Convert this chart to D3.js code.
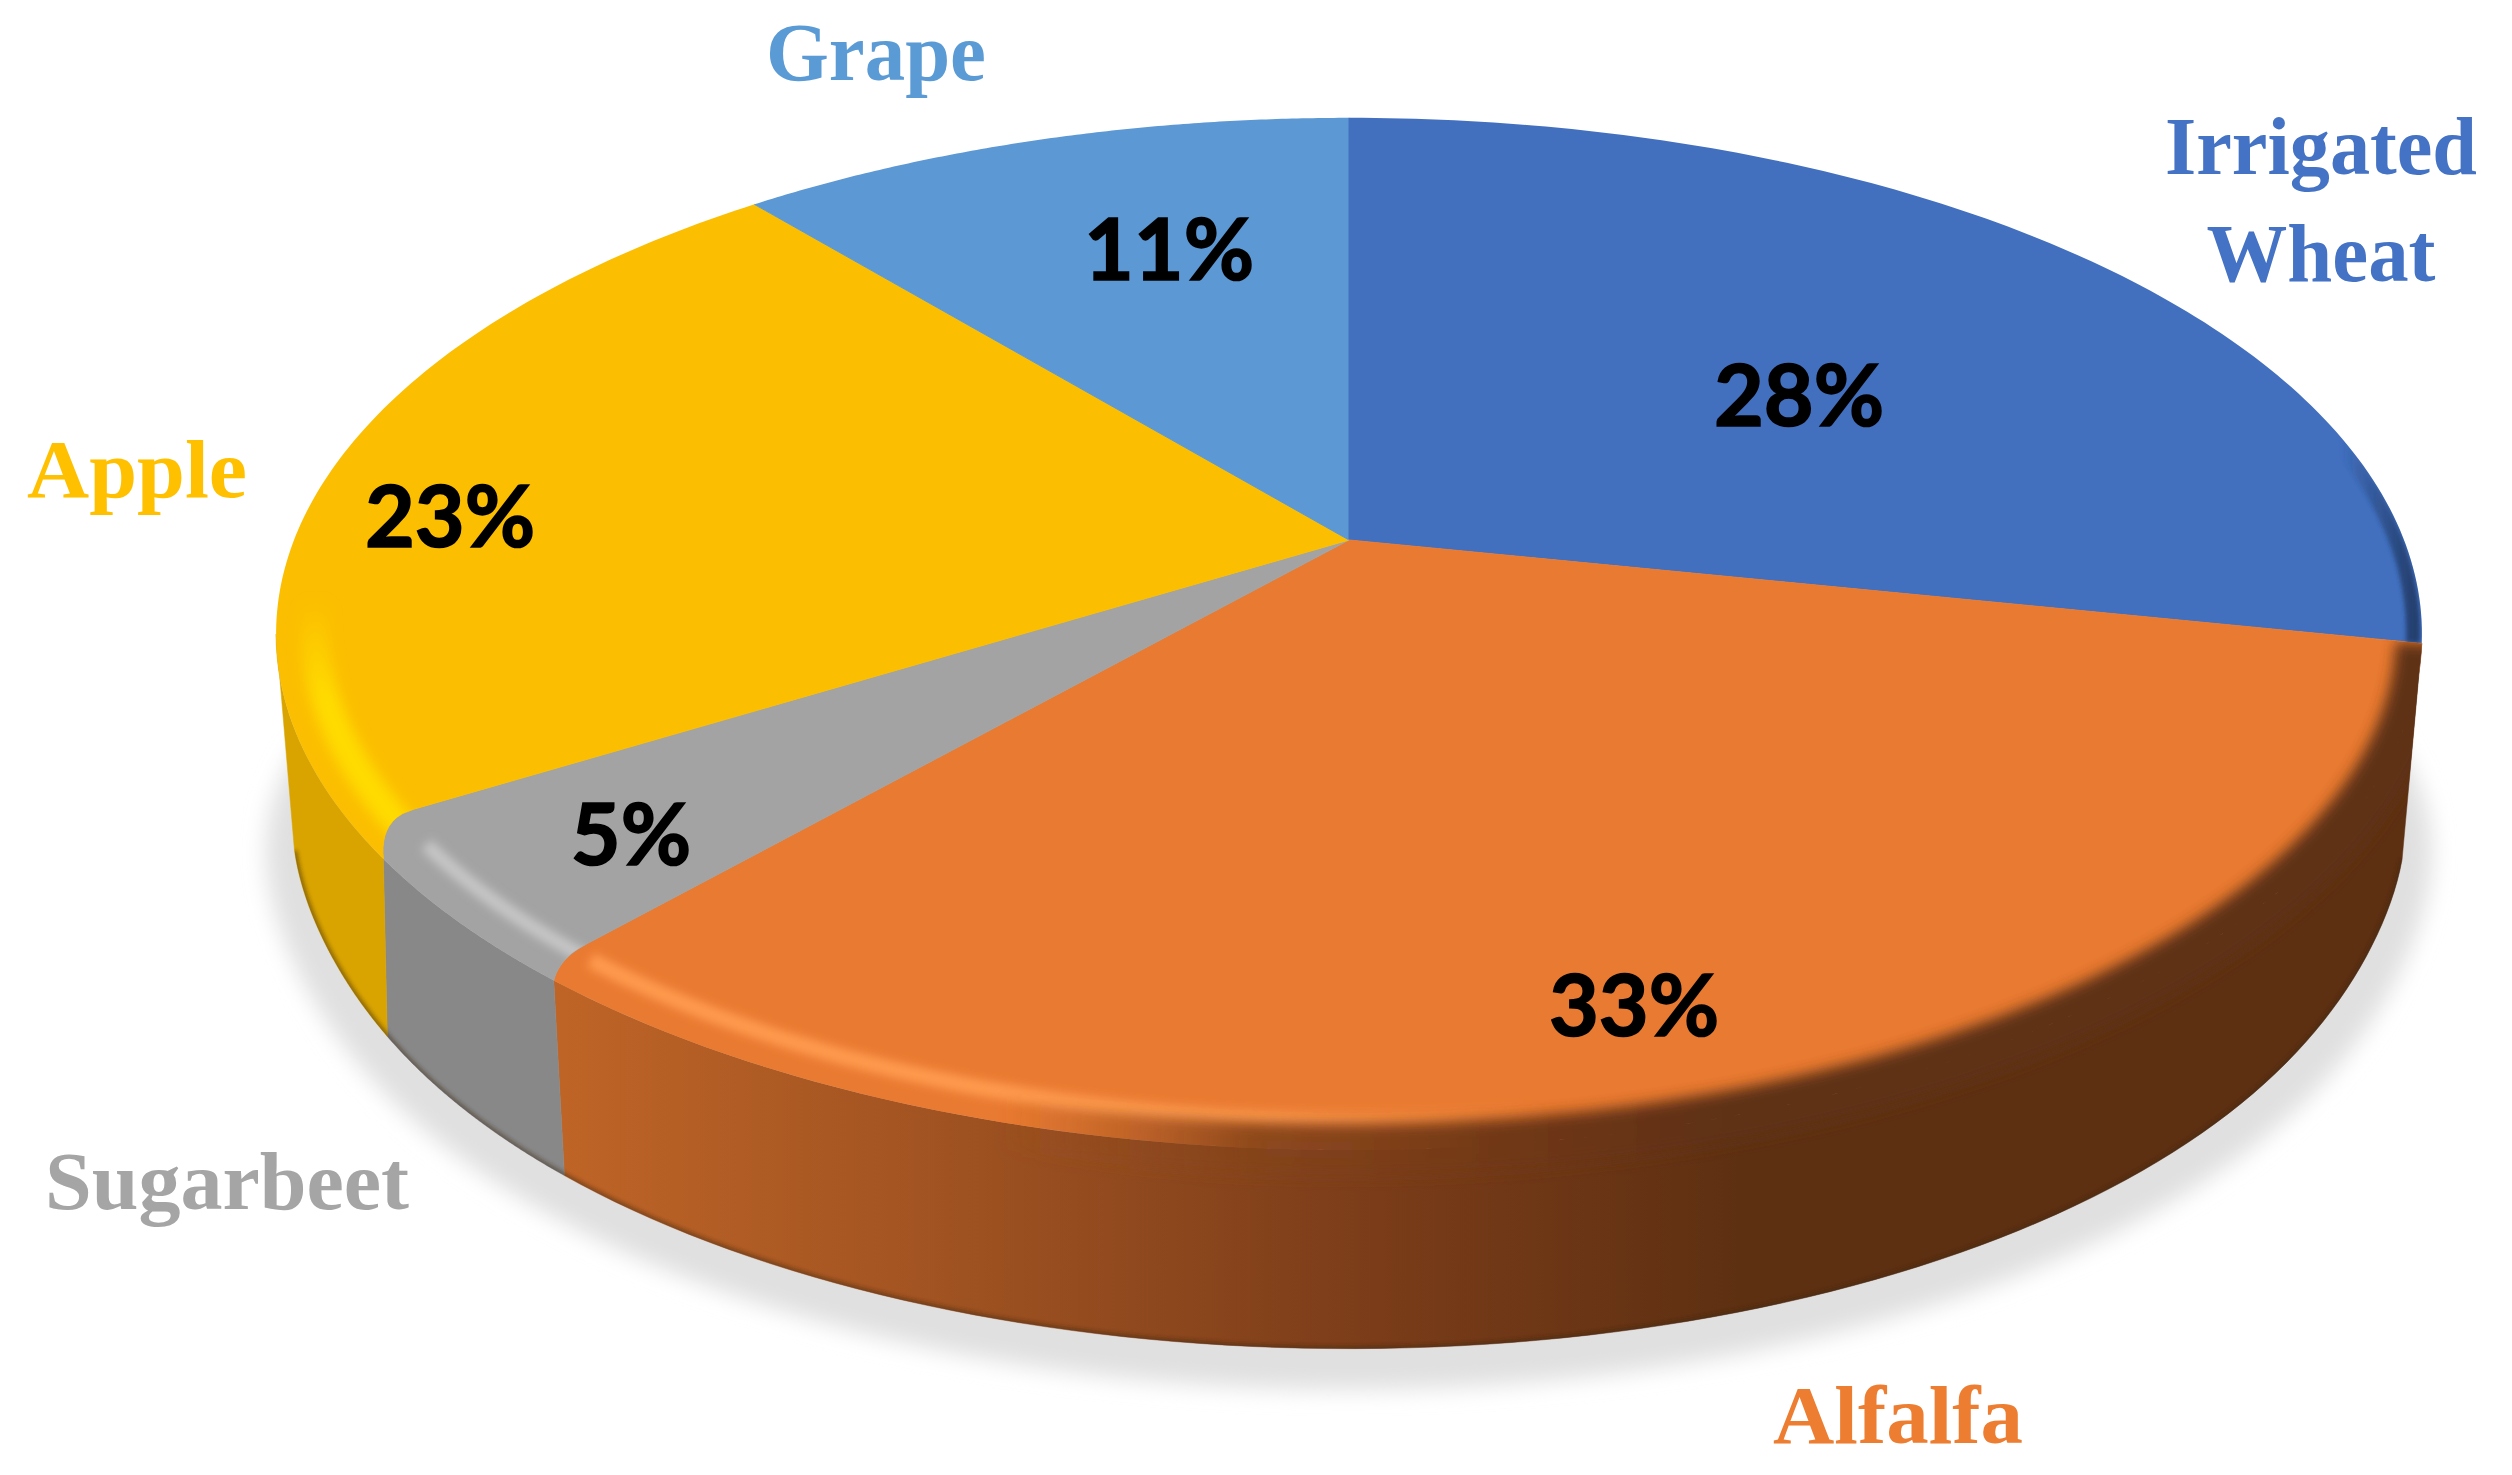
<!DOCTYPE html>
<html>
<head>
<meta charset="utf-8">
<script src="https://cdn.jsdelivr.net/npm/d3@7"></script>
<style>
    body { margin: 0; background: #fff; }
    text { text-anchor: middle; }
    .crop { font-family: "Liberation Serif", serif; font-weight: 700; font-size: 82px; }
    .pct { font-family: Lato, sans-serif; font-weight: 700; font-size: 86px; fill: #000; stroke: #000; stroke-width: 1.6px; }
</style>
</head>
<body>
<script>
// values (slice shares, they round to the printed labels)
const crops = ["Irrigated Wheat", "Alfalfa", "Sugarbeet", "Apple", "Grape"];
const shares = [28.2, 33.4, 4.7, 22.6, 11.1];
// the bevel bends the dividers a little, so the shares measured on the rim differ
const rimShares = [28.2, 33.05, 4.05, 23.6, 11.1];

const topColors = ["#4270bf", "#e97a31", "#a3a3a3", "#fbbe00", "#5b98d4"];
const textColors = ["#4472c4", "#ed7d31", "#a5a5a5", "#ffc000", "#5b9bd5"];
const wallColors = [null, "url(#wallOrange)", "#888888", "#d9a400", null];

// perspective of the disc
const cx = 1349, apexY = 540, lowY = 760;
const A = 1055, B = 499, p = 0.182, lowScale = 0.965;
// where the disc is widest on the left, the wall stops being visible there
const wallLimit = 259.5 * Math.PI / 180;

function project(r, a) {
    let u = r * Math.sin(a), v = r * Math.cos(a), w = 1 + p * v;
    return [cx + A * u / w, apexY - B * v / w];
}

function projectLow(a) {
    let u = Math.sin(a), v = Math.cos(a), w = 1 + p * v;
    let sx = lowScale + 0.025 * Math.pow(u, 20);
    return [cx + A * sx * u / w, lowY - B * lowScale * v / w];
}

function steps(a0, a1, n) {
    return d3.range(n + 1).map(i => a0 + (a1 - a0) * i / n);
}

const pie = d3.pie().sort(null).value(d => d);
const slices = pie(shares);
const rims = pie(rimShares);
const line = d3.line();

// rounded corner from the flat divider out to the rim
function cornerPoints(flat, rim) {
    return d3.range(0, 11).map(i => {
        let t = i / 10;
        return project(0.945 + 0.055 * Math.pow(t, 0.7), flat + (rim - flat) * Math.pow(t, 1.5));
    });
}

function topPath(i) {
    let s = slices[i], r = rims[i];
    let pts = [[cx, apexY]]
        .concat(cornerPoints(s.startAngle, r.startAngle))
        .concat(steps(r.startAngle, r.endAngle, 120).map(a => project(1, a)))
        .concat(cornerPoints(s.endAngle, r.endAngle).reverse());
    return line(pts) + "Z";
}

// wall edges start at the rim angle and land on the slice angle
function wallPath(i) {
    let a0 = rims[i].startAngle, a1 = Math.min(rims[i].endAngle, wallLimit);
    let b0 = slices[i].startAngle, b1 = Math.min(slices[i].endAngle, wallLimit);
    let pts = steps(a0, a1, 100).map(a => project(1, a))
        .concat(steps(b1, b0, 100).map(projectLow));
    return line(pts) + "Z";
}

const svg = d3.select("body").append("svg")
    .attr("width", 2512)
    .attr("height", 1475);
const defs = svg.append("defs");

function addBlur(id, dev) {
    defs.append("filter").attr("id", id)
        .attr("filterUnits", "userSpaceOnUse")
        .attr("x", 0).attr("y", 0).attr("width", 2512).attr("height", 1475)
        .append("feGaussianBlur").attr("stdDeviation", dev);
}
addBlur("blur2", 2);
addBlur("blur5", 5);
addBlur("blur7", 7);
addBlur("blur11", 11);

function addGradient(id, pos, stops) {
    let g = defs.append("linearGradient").attr("id", id)
        .attr("gradientUnits", "userSpaceOnUse")
        .attr("x1", pos[0]).attr("y1", pos[1]).attr("x2", pos[2]).attr("y2", pos[3]);
    g.selectAll("stop").data(stops).enter().append("stop")
        .attr("offset", d => d[0])
        .attr("stop-color", d => d[1])
        .attr("stop-opacity", d => d[2] === undefined ? 1 : d[2]);
}
addGradient("wallOrange", [540, 0, 1740, 0], [[0, "#c06527"], [0.35, "#9f5221"], [0.7, "#7a3c19"], [1, "#5e3012"]]);
addGradient("glowOrange", [560, 0, 1550, 0], [[0, "#ff9a4d"], [0.7, "#ff9a4d"], [1, "#ff9a4d", 0]]);
// same browns as the wall, so the band melts into it
addGradient("darkOrange", [1000, 0, 1740, 0], [[0, "#9d5120", 0], [0.34, "#85431b", 0.9], [0.68, "#713818"], [1, "#5e3012"]]);
addGradient("glowYellow", [0, 850, 0, 600], [[0, "#ffdc00"], [0.6, "#ffdc00"], [1, "#ffdc00", 0]]);
addGradient("darkBlue", [2340, 0, 2425, 0], [[0, "#1f3864", 0], [1, "#1f3864"]]);

// soft shadow under the disc
const front = steps(0, 2 * Math.PI, 240).map(projectLow);
svg.append("path")
    .attr("d", line(front) + "Z")
    .attr("transform", "translate(1349,850) scale(1.025) translate(-1349,-822)")
    .attr("fill", "#e0e0e0")
    .attr("filter", "url(#blur11)");

// side walls
const wallIdx = d3.range(crops.length).filter(i => wallColors[i]);
defs.append("clipPath").attr("id", "wallClip")
    .selectAll("path").data(wallIdx).enter().append("path").attr("d", wallPath);

svg.append("g").selectAll("path").data(wallIdx).enter().append("path")
    .attr("d", wallPath)
    .attr("fill", i => wallColors[i])
    .attr("stroke", i => wallColors[i])
    .attr("stroke-width", 0.5);

// darker lower edge of the wall
svg.append("g").attr("clip-path", "url(#wallClip)")
    .append("path")
    .attr("d", line(steps(slices[1].startAngle, wallLimit, 200).map(projectLow)))
    .attr("fill", "none")
    .attr("stroke", "#3a2410")
    .attr("stroke-opacity", 0.55)
    .attr("stroke-width", 5)
    .attr("filter", "url(#blur2)");

// top face
svg.append("g").selectAll("path").data(d3.range(crops.length)).enter().append("path")
    .attr("d", topPath)
    .attr("fill", i => topColors[i]);

// closes the hairline between two neighbouring slices
svg.append("g").selectAll("path").data(d3.range(crops.length)).enter().append("path")
    .attr("d", i => line([[cx, apexY]].concat(cornerPoints(slices[i].startAngle, rims[i].startAngle))))
    .attr("fill", "none")
    .attr("stroke", i => topColors[i])
    .attr("stroke-width", 1);

// bevel lights and darks, each kept inside its slice
const bevels = [
    {i: 0, r: 0.992, w: 14, blur: "blur2", stroke: "url(#darkBlue)", clip: "slice0"},
    {i: 1, r: 0.96, w: 16, blur: "blur5", stroke: "url(#glowOrange)", clip: "slice1"},
    {i: 1, r: 1.0, w: 52, blur: "blur7", stroke: "url(#darkOrange)", clip: "band1"},
    {i: 2, r: 0.96, w: 14, blur: "blur5", stroke: "#c6c6c6", clip: "slice2"},
    {i: 3, r: 0.965, w: 28, blur: "blur7", stroke: "url(#glowYellow)", clip: "slice3"}
];
d3.range(crops.length).forEach(i => {
    defs.append("clipPath").attr("id", "slice" + i).append("path").attr("d", topPath(i));
});
// the dark band also runs over the wall so no light line stays on the rim
const band = defs.append("clipPath").attr("id", "band1");
band.append("path").attr("d", topPath(1));
band.append("path").attr("d", wallPath(1));

svg.append("g").selectAll("g").data(bevels).enter().append("g")
    .attr("clip-path", d => "url(#" + d.clip + ")")
    .append("path")
    .attr("d", d => line(steps(rims[d.i].startAngle, rims[d.i].endAngle, 120).map(a => project(d.r, a))))
    .attr("fill", "none")
    .attr("stroke", d => d.stroke)
    .attr("stroke-width", d => d.w)
    .attr("filter", d => "url(#" + d.blur + ")");

// percent labels
const pctAt = [[1799, 426], [1634, 1036], [631, 865], [450, 547], [1169, 280]];
svg.append("g").selectAll("text").data(slices).enter().append("text")
    .attr("class", "pct")
    .attr("x", (d, i) => pctAt[i][0])
    .attr("y", (d, i) => pctAt[i][1])
    .text(d => Math.round(d.value) + "%");

// crop names, each word fitted to the width it has in the picture
const nameAt = [[2321, 174], [1898, 1443], [227, 1209], [137, 497], [876, 80]];
const nameWidths = [[312, 229], [250], [364], [220], [220]];
const nameGroup = svg.append("g");
crops.forEach((name, i) => {
    let parts = name === "Irrigated Wheat" ? name.split(" ") : [name];
    parts.forEach((part, k) => {
        nameGroup.append("text")
            .attr("class", "crop")
            .attr("x", nameAt[i][0])
            .attr("y", nameAt[i][1] + k * 107)
            .attr("fill", textColors[i])
            .attr("textLength", nameWidths[i][k])
            .attr("lengthAdjust", "spacingAndGlyphs")
            .text(part);
    });
});
</script>
</body>
</html>
